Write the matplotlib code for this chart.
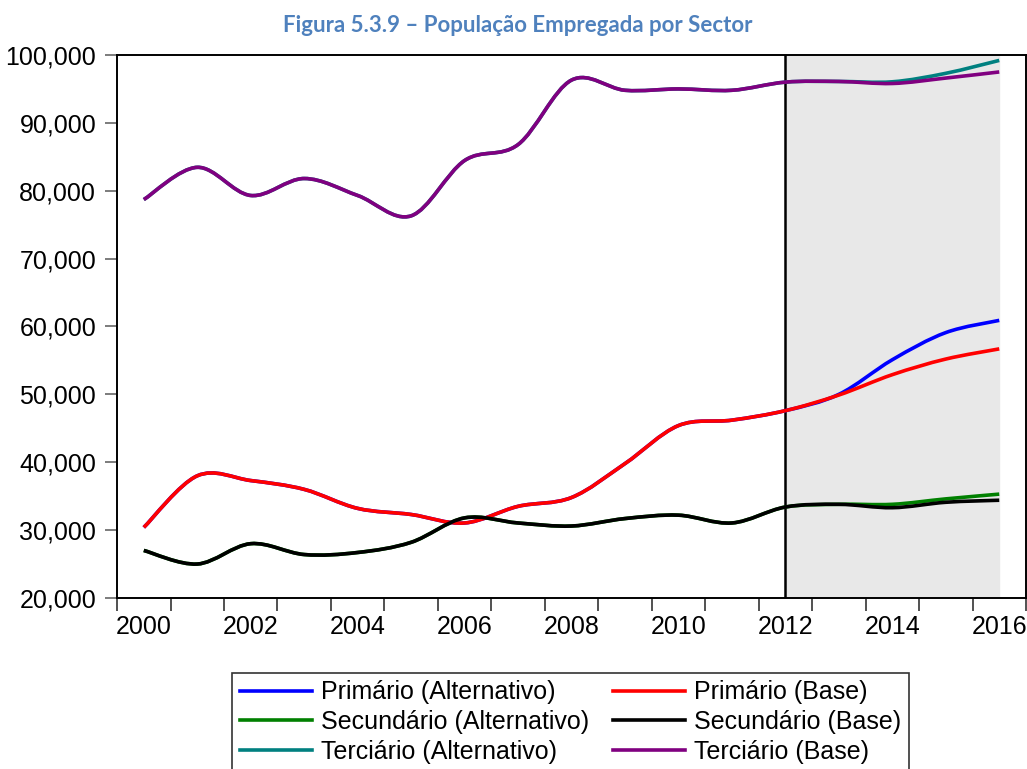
import numpy as np
import matplotlib.pyplot as plt
from matplotlib.path import Path
from matplotlib.patches import PathPatch
from matplotlib.lines import Line2D

plt.rcParams['font.family'] = ['Liberation Sans', 'DejaVu Sans']

years = np.arange(2000, 2017)
proj_start = 2012

# Cenário base (anual)
prim_base = [30400, 38000, 37300, 36000, 33200, 32300, 31050, 33500, 34800,
             39800, 45400, 46200, 47600, 49900, 52900, 55200, 56700]
sec_base = [27000, 25000, 28000, 26400, 26700, 28200, 31800, 31050, 30600,
            31700, 32200, 31050, 33400, 33800, 33300, 34100, 34400]
terc_base = [78700, 83450, 79300, 81800, 79300, 76300, 84450, 86800, 96300,
             94800, 95000, 94800, 96000, 96100, 95800, 96600, 97500]

# Cenário alternativo (2012-2016)
prim_alt_proj = [47600, 50000, 55100, 59100, 60900]
sec_alt_proj = [33400, 33800, 33800, 34600, 35300]
terc_alt_proj = [96000, 96100, 96050, 97300, 99200]

n_hist = proj_start - years[0]
prim_alt = prim_base[:n_hist] + prim_alt_proj
sec_alt = sec_base[:n_hist] + sec_alt_proj
terc_alt = terc_base[:n_hist] + terc_alt_proj

alt_series = [
    ('Primário (Alternativo)', prim_alt, '#0000ff'),
    ('Secundário (Alternativo)', sec_alt, '#008000'),
    ('Terciário (Alternativo)', terc_alt, '#008080'),
]
base_series = [
    ('Primário (Base)', prim_base, '#ff0000'),
    ('Secundário (Base)', sec_base, '#000000'),
    ('Terciário (Base)', terc_base, '#800080'),
]


def smooth_path(x, y, t=1/6):
    # curva de Catmull-Rom em segmentos de Bezier
    verts = [(x[0], y[0])]
    codes = [Path.MOVETO]
    n = len(x)
    for i in range(n - 1):
        x0, y0 = (x[i-1], y[i-1]) if i > 0 else (x[i], y[i])
        x3, y3 = (x[i+2], y[i+2]) if i + 2 < n else (x[i+1], y[i+1])
        c1 = (x[i] + (x[i+1] - x0) * t, y[i] + (y[i+1] - y0) * t)
        c2 = (x[i+1] - (x3 - x[i]) * t, y[i+1] - (y3 - y[i]) * t)
        verts += [c1, c2, (x[i+1], y[i+1])]
        codes += [Path.CURVE4] * 3
    return Path(verts, codes)


fig = plt.figure(figsize=(10.27, 7.69), dpi=100)
ax = fig.add_axes([0.114, 0.2224, 0.885, 0.7061])

xpos = years + 0.5
ax.axvspan(proj_start + 0.5, xpos[-1], color='#e8e8e8', zorder=0)
ax.axvline(proj_start + 0.5, color='black', lw=1.8, zorder=1)

# alternativo primeiro, base por cima
for label, vals, col in alt_series + base_series:
    ax.add_patch(PathPatch(smooth_path(xpos, np.array(vals, float)),
                           facecolor='none', edgecolor=col, lw=2.6,
                           capstyle='butt', zorder=3))

ax.set_xlim(2000, 2017)
ax.set_ylim(20000, 100000)

ax.set_xticks(np.arange(2000, 2018))
ax.set_xticklabels([])
ax.set_xticks(np.arange(2000, 2017, 2) + 0.5, minor=True)
ax.set_xticklabels([str(y) for y in range(2000, 2017, 2)], minor=True)
ax.tick_params(axis='x', which='major', direction='out', length=9,
               width=1.2, color='#333333')
ax.tick_params(axis='x', which='minor', length=0, pad=12, labelsize=18)

yt = np.arange(20000, 100001, 10000)
ax.set_yticks(yt)
ax.set_yticklabels(['{:,.0f}'.format(v) for v in yt])
ax.tick_params(axis='y', direction='out', length=9, width=1.2,
               color='#666666', labelsize=18, pad=6)

for s in ax.spines.values():
    s.set_linewidth(1.4)
    s.set_color('black')

fig.text(0.5044, 1 - 25/769, 'Figura 5.3.9 – População Empregada por Sector',
         ha='center', va='center', fontsize=16, fontweight='bold',
         color='#4f81bd', family=['Lato', 'DejaVu Sans'])

# legenda preenchida por linhas: coluna 1 alternativo, coluna 2 base
handles = [Line2D([], [], color=c, lw=2.6) for _, _, c in alt_series + base_series]
labels = [l for l, _, _ in alt_series + base_series]
leg = fig.legend(handles, labels, ncol=2, loc='upper left',
                 bbox_to_anchor=(232/1027, 1 - 673/769), fontsize=18,
                 frameon=True, fancybox=False, handlelength=2.9,
                 handletextpad=0.35, columnspacing=0.95, labelspacing=0.22,
                 borderpad=0.3, borderaxespad=0)
leg.get_frame().set_edgecolor('black')
leg.get_frame().set_linewidth(1.2)

fig.savefig('out.png', dpi=100)
